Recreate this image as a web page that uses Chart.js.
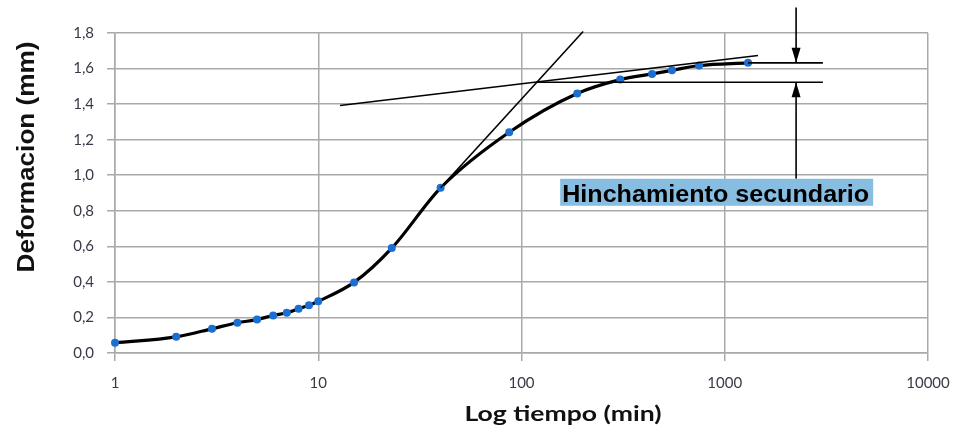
<!DOCTYPE html>
<html lang="es">
<head>
<meta charset="UTF-8">
<title>Deformacion vs Log tiempo</title>
<script src="https://cdn.jsdelivr.net/npm/chart.js"></script>
<style>
  html, body { margin: 0; padding: 0; background: #fff; }
  #cont { width: 957px; height: 441px; }
</style>
</head>
<body>
<div id="cont"><canvas id="myChart"></canvas></div>
<script>
// datos
const tiempo = [1, 2, 3, 4, 5, 6, 7, 8, 9, 10, 15, 23, 40, 87, 188, 306, 439, 550, 748, 1302];
const deformacion = [0.057, 0.091, 0.136, 0.170, 0.188, 0.211, 0.226, 0.249, 0.269, 0.291,
                     0.397, 0.590, 0.929, 1.242, 1.460, 1.538, 1.570, 1.590, 1.617, 1.632];

// rectas de construccion
const tangenteX = [40, 201];
const tangenteY = [0.93, 1.808];
const secundariaX = [12.8, 1458];
const secundariaY = [1.392, 1.673];
const hSuperiorX = [1302, 3040];
const hSuperiorY = [1.632, 1.632];
const hInferiorX = [119, 3040];
const hInferiorY = [1.523, 1.523];
const flechaAbajoX = [2244, 2244];
const flechaAbajoY = [1.943, 1.632];
const flechaArribaX = [2244, 2244];
const flechaArribaY = [0.98, 1.523];

const xTicks = [1, 10, 100, 1000, 10000];
const yTicks = [0, 0.2, 0.4, 0.6, 0.8, 1.0, 1.2, 1.4, 1.6, 1.8];

const etiqueta = 'Hinchamiento secundario';
const etiquetaX = 155;
const etiquetaY = 0.98;

const pts = (xs, ys) => xs.map((v, i) => ({x: v, y: ys[i]}));

const recta = (xs, ys) => ({
    data: pts(xs, ys),
    borderColor: '#000',
    borderWidth: 1.6,
    pointRadius: 0,
    tension: 0,
    clip: false
});

const grisGrid = '#a9a9a9';

// dibuja flechas, etiqueta y titulos
const extras = {
    id: 'extras',
    afterDatasetsDraw(chart) {
        const ctx = chart.ctx;
        const x = chart.scales.x, y = chart.scales.y;
        ctx.save();
        ctx.fillStyle = '#000';
        [[flechaAbajoX, flechaAbajoY], [flechaArribaX, flechaArribaY]].forEach(([fx, fy]) => {
            const px = x.getPixelForValue(fx[1]);
            const py = y.getPixelForValue(fy[1]);
            const dir = fy[1] < fy[0] ? -1 : 1; // -1 apunta hacia abajo
            ctx.beginPath();
            ctx.moveTo(px, py);
            ctx.lineTo(px - 4.5, py + dir * 15);
            ctx.lineTo(px + 4.5, py + dir * 15);
            ctx.closePath();
            ctx.fill();
        });

        // caja de la etiqueta
        const bx = x.getPixelForValue(etiquetaX);
        const by = y.getPixelForValue(etiquetaY);
        const bw = 313, bh = 27;
        ctx.fillStyle = '#86bde0';
        ctx.fillRect(bx, by, bw, bh);
        ctx.fillStyle = '#000';
        ctx.font = 'bold 23px "Liberation Sans", Arial, sans-serif';
        ctx.textBaseline = 'alphabetic';
        const w = ctx.measureText(etiqueta).width;
        ctx.translate(bx + 2, by + 23);
        ctx.scale((bw - 6) / w, 1);
        ctx.fillText(etiqueta, 0, 0);
        ctx.restore();
    },
    afterDraw(chart) {
        const ctx = chart.ctx;
        ctx.save();
        ctx.fillStyle = '#111';
        // titulo eje y
        ctx.font = 'bold 23px "Liberation Sans", Arial, sans-serif';
        ctx.textAlign = 'center';
        ctx.textBaseline = 'middle';
        const ty = 'Deformacion (mm)';
        let w = ctx.measureText(ty).width;
        ctx.translate(28, 157);
        ctx.rotate(-Math.PI / 2);
        ctx.scale(231 / w, 1);
        ctx.fillText(ty, 0, 0);
        ctx.restore();

        // titulo eje x
        ctx.save();
        ctx.fillStyle = '#111';
        ctx.font = 'bold 21px Lato, "Open Sans", sans-serif';
        ctx.textAlign = 'center';
        ctx.textBaseline = 'alphabetic';
        const tx = 'Log tiempo (min)';
        w = ctx.measureText(tx).width;
        ctx.translate(563, 421);
        ctx.scale(197 / w, 1);
        ctx.fillText(tx, 0, 0);
        ctx.restore();
    }
};

const config = {
    type: 'line',
    data: {
        datasets: [
            recta(tangenteX, tangenteY),
            recta(secundariaX, secundariaY),
            recta(hSuperiorX, hSuperiorY),
            recta(hInferiorX, hInferiorY),
            recta(flechaAbajoX, flechaAbajoY),
            recta(flechaArribaX, flechaArribaY),
            {
                data: pts(tiempo, deformacion),
                borderColor: '#000',
                borderWidth: 3.2,
                cubicInterpolationMode: 'monotone',
                pointRadius: 4,
                pointBackgroundColor: '#1b6fd3',
                pointBorderWidth: 0,
                clip: false
            }
        ]
    },
    plugins: [extras],
    options: {
        responsive: true,
        maintainAspectRatio: false,
        animation: false,
        layout: { padding: { left: 0, top: 33, right: 29, bottom: 0 } },
        plugins: {
            legend: { display: false },
            tooltip: { enabled: false }
        },
        scales: {
            x: {
                type: 'logarithmic',
                min: 1,
                max: 10000,
                afterBuildTicks: axis => { axis.ticks = xTicks.map(v => ({value: v, major: true})); },
                afterFit: s => { s.height = 88; s.paddingLeft = 0; s.paddingRight = 0; },
                ticks: {
                    callback: v => String(v),
                    color: '#3d3848',
                    font: { family: 'Lato', size: 15 },
                    padding: 13,
                    maxRotation: 0,
                    autoSkip: false
                },
                grid: { color: grisGrid, lineWidth: 1.5, tickLength: 8 },
                border: { color: grisGrid, width: 1.5 }
            },
            y: {
                min: 0,
                max: 1.8,
                afterBuildTicks: axis => { axis.ticks = yTicks.map(v => ({value: v})); },
                afterFit: s => { s.width = 115; s.paddingTop = 0; s.paddingBottom = 0; },
                ticks: {
                    callback: v => v.toFixed(1).replace('.', ','),
                    color: '#3d3848',
                    font: { family: 'Lato', size: 15 },
                    padding: 13
                },
                grid: { color: grisGrid, lineWidth: 1.5, tickLength: 8 },
                border: { color: grisGrid, width: 1.5 }
            }
        }
    }
};

const myChart = new Chart(document.getElementById('myChart'), config);
</script>
</body>
</html>
